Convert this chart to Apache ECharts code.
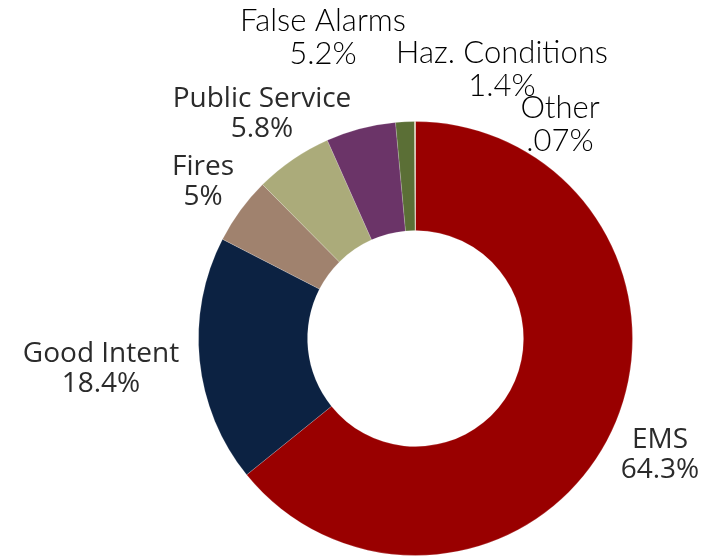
<!DOCTYPE html>
<html>
<head>
<meta charset="utf-8">
<script src="https://cdn.jsdelivr.net/npm/echarts@6/dist/echarts.min.js"></script>
<style>
  html, body { margin: 0; padding: 0; background: #fff; }
  #chart { width: 717px; height: 559px; }
</style>
</head>
<body>
<div id="chart"></div>
<script>
// data
var categories = ['EMS', 'Good Intent', 'Fires', 'Public Service', 'False Alarms', 'Haz. Conditions', 'Other'];
var values = [64.3, 18.4, 5, 5.8, 5.2, 1.4, 0.07];
var pctLabels = ['64.3%', '18.4%', '5%', '5.8%', '5.2%', '1.4%', '.07%'];

// look
var colors = ['#990000', '#0c2242', '#a0826e', '#abab7a', '#6b3468', '#5b6f36', '#d8ccaa'];
// label anchors (centre of the two-line label)
var labelPos = [[660, 455], [101, 369], [203, 182], [262, 114], [323, 37], [502, 69], [560, 124]];
var lightLabel = [false, false, false, false, true, true, true];

var sansStyle = { fontFamily: 'Open Sans', fontSize: 28, lineHeight: 30, color: '#2b2b2b' };
var lightStyle = { fontFamily: 'Lato', fontWeight: 300, fontSize: 31, lineHeight: 33, color: '#000000' };

var chart = echarts.init(document.getElementById('chart'));

var pieData = categories.map(function (name, i) {
  return {
    name: name,
    value: values[i],
    itemStyle: { color: colors[i] },
    label: lightLabel[i] ? lightStyle : sansStyle
  };
});

chart.setOption({
  animation: false,
  series: [{
    type: 'pie',
    center: [415.5, 338.5],
    radius: [108, 217],
    startAngle: 90,
    clockwise: true,
    avoidLabelOverlap: false,
    itemStyle: { borderColor: 'rgba(255,255,255,0.35)', borderWidth: 0.5 },
    label: {
      show: true,
      position: 'outside',
      formatter: function (p) {
        return p.name + '\n' + pctLabels[p.dataIndex];
      }
    },
    labelLine: { show: false },
    labelLayout: function (p) {
      var pos = labelPos[p.dataIndex];
      return { x: pos[0], y: pos[1], align: 'center', verticalAlign: 'middle' };
    },
    emphasis: { disabled: true },
    data: pieData
  }]
});
</script>
</body>
</html>
